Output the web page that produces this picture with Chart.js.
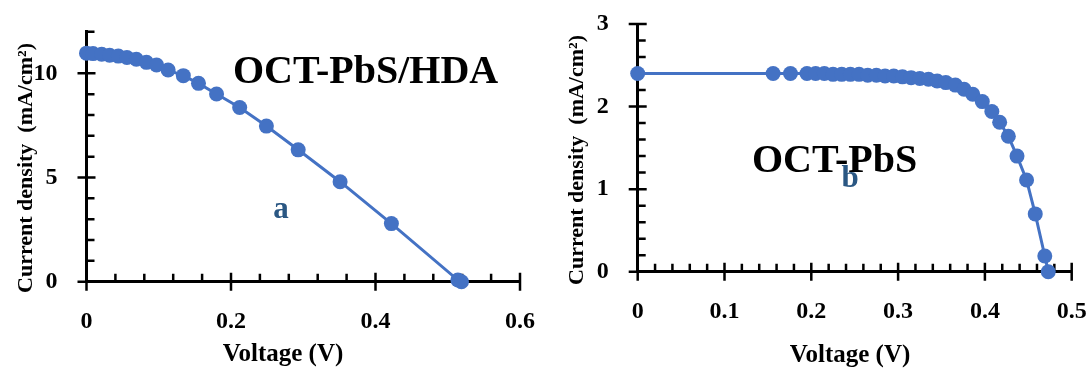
<!DOCTYPE html>
<html>
<head>
<meta charset="utf-8">
<script src="https://cdn.jsdelivr.net/npm/chart.js@4.4.0/dist/chart.umd.min.js"></script>
<style>
    body { margin: 0; background: #fff; }
    #wrap { position: relative; width: 1091px; height: 368px; overflow: hidden; }
    canvas { position: absolute; top: 0; }
</style>
</head>
<body>
<div id="wrap">
    <canvas id="chartA" width="545" height="368" style="left:0px"></canvas>
    <canvas id="chartB" width="546" height="368" style="left:545px"></canvas>
</div>
<script>
// panel a: OCT-PbS/HDA
const voltageA = [0, 0.009, 0.021, 0.032, 0.044, 0.056, 0.069, 0.083, 0.097, 0.113, 0.134, 0.155, 0.180, 0.212, 0.249, 0.293, 0.351, 0.422, 0.514, 0.519];
const currentA = [10.97, 10.95, 10.92, 10.87, 10.83, 10.76, 10.68, 10.53, 10.40, 10.16, 9.89, 9.52, 9.01, 8.36, 7.47, 6.33, 4.80, 2.79, 0.08, 0];

// panel b: OCT-PbS
const voltageB = [0, 0.156, 0.176, 0.195, 0.205, 0.215, 0.225, 0.235, 0.245, 0.255, 0.265, 0.275, 0.285, 0.295, 0.305, 0.315,
    0.325, 0.335, 0.345, 0.355, 0.366, 0.376, 0.386, 0.397, 0.408, 0.417, 0.427, 0.437, 0.448, 0.458, 0.469, 0.473];
const currentB = [2.40, 2.40, 2.40, 2.40, 2.40, 2.40, 2.39, 2.39, 2.39, 2.39, 2.38, 2.38, 2.37, 2.37, 2.36, 2.35,
    2.34, 2.33, 2.31, 2.29, 2.26, 2.21, 2.15, 2.06, 1.94, 1.81, 1.64, 1.40, 1.11, 0.70, 0.19, 0];

// axis ranges / tick steps [max, major, minor]
const xTicksA = [0.6, 0.2, 0.04];
const yTicksA = [12, 5, 1];
const xTicksB = [0.5, 0.1, 0.02];
const yTicksB = [3, 1, 0.2];

const lineColor = '#4472C4';
const serif = "'Liberation Serif', 'Times New Roman', serif";

// draws the little tick marks that cross the axes
const tickMarks = {
    id: 'tickMarks',
    beforeDatasetsDraw(chart, args, opts) {
        const ctx = chart.ctx;
        const xs = chart.scales.x, ys = chart.scales.y;
        const x0 = xs.getPixelForValue(0);
        const y0 = ys.getPixelForValue(0);
        ctx.save();
        ctx.strokeStyle = '#000';
        ctx.lineWidth = 2.5;
        ctx.beginPath();
        const nx = Math.round(opts.x[0] / opts.x[2]);
        const xPer = Math.round(opts.x[1] / opts.x[2]);
        for (let i = 0; i <= nx; i++) {
            const px = xs.getPixelForValue(i * opts.x[2]);
            if (i % xPer === 0) {
                ctx.moveTo(px, y0 - 9);
                ctx.lineTo(px, y0 + 9);
            } else {
                ctx.moveTo(px, y0);
                ctx.lineTo(px, y0 - 8);
            }
        }
        const ny = Math.round(opts.y[0] / opts.y[2]);
        const yPer = Math.round(opts.y[1] / opts.y[2]);
        for (let i = 0; i <= ny; i++) {
            const py = ys.getPixelForValue(i * opts.y[2]);
            if (i % yPer === 0) {
                ctx.moveTo(x0 - 9, py);
                ctx.lineTo(x0 + 9, py);
            } else {
                ctx.moveTo(x0, py);
                ctx.lineTo(x0 + 8, py);
            }
        }
        ctx.stroke();
        ctx.restore();
    }
};

// axis titles and labels inside the plot
const labels = {
    id: 'labels',
    afterDraw(chart, args, opts) {
        const ctx = chart.ctx;
        ctx.save();
        ctx.fillStyle = '#000';
        ctx.textBaseline = 'alphabetic';

        ctx.font = 'bold 40px ' + serif;
        ctx.textAlign = 'left';
        ctx.fillText(opts.title, opts.titlePos[0], opts.titlePos[1]);

        ctx.fillStyle = '#2a5783';
        ctx.font = 'bold 31px ' + serif;
        ctx.textAlign = 'center';
        ctx.fillText(opts.letter, opts.letterPos[0], opts.letterPos[1]);

        ctx.fillStyle = '#000';
        ctx.font = 'bold 25px ' + serif;
        ctx.fillText('Voltage (V)', opts.xTitlePos[0], opts.xTitlePos[1]);

        ctx.font = 'bold 22px ' + serif;
        ctx.translate(opts.yTitlePos[0], opts.yTitlePos[1]);
        ctx.rotate(-Math.PI / 2);
        ctx.fillText('Current density  (mA/cm²)', 0, 0);
        ctx.restore();
    }
};

function makeChart(id, xs, ys, xt, yt, box, text) {
    const ctx = document.getElementById(id).getContext('2d');
    const tickFont = { family: serif, size: 24, weight: 'bold' };
    return new Chart(ctx, {
        type: 'scatter',
        data: {
            datasets: [{
                data: xs.map((v, i) => ({ x: v, y: ys[i] })),
                showLine: true,
                borderColor: lineColor,
                backgroundColor: lineColor,
                borderWidth: 3,
                pointRadius: 7.5,
                pointBorderWidth: 0,
                clip: false
            }]
        },
        options: {
            responsive: false,
            animation: false,
            events: [],
            layout: { padding: { top: box.top, right: box.right, left: 0, bottom: 0 } },
            plugins: {
                legend: { display: false },
                tooltip: { enabled: false },
                tickMarks: { x: xt, y: yt },
                labels: text
            },
            scales: {
                x: {
                    type: 'linear',
                    min: 0,
                    max: xt[0],
                    grid: { display: false, drawTicks: false },
                    border: { display: true, color: '#000', width: 3 },
                    ticks: { stepSize: xt[1], includeBounds: false, padding: 26, color: '#000', font: tickFont, maxRotation: 0 },
                    afterFit: (s) => {
                        s.height = box.bottom;
                        s.paddingLeft = 0;
                        s.paddingRight = 0;
                    }
                },
                y: {
                    type: 'linear',
                    min: 0,
                    max: yt[0],
                    grid: { display: false, drawTicks: false },
                    border: { display: true, color: '#000', width: 3 },
                    ticks: { stepSize: yt[1], includeBounds: false, padding: 29, color: '#000', font: tickFont },
                    afterFit: (s) => {
                        s.width = box.left;
                        s.paddingTop = 0;
                        s.paddingBottom = 0;
                    }
                }
            }
        },
        plugins: [tickMarks, labels]
    });
}

makeChart('chartA', voltageA, currentA, xTicksA, yTicksA,
    { top: 31.7, right: 25, left: 86.5, bottom: 86.3 },
    { title: 'OCT-PbS/HDA', titlePos: [233, 83], letter: 'a', letterPos: [281, 218],
      xTitlePos: [283, 361], yTitlePos: [32, 168] });

makeChart('chartB', voltageB, currentB, xTicksB, yTicksB,
    { top: 24, right: 19.3, left: 92.7, bottom: 96.3 },
    { title: 'OCT-PbS', titlePos: [207, 172], letter: 'b', letterPos: [305, 187],
      xTitlePos: [305, 362], yTitlePos: [38, 160] });
</script>
</body>
</html>
